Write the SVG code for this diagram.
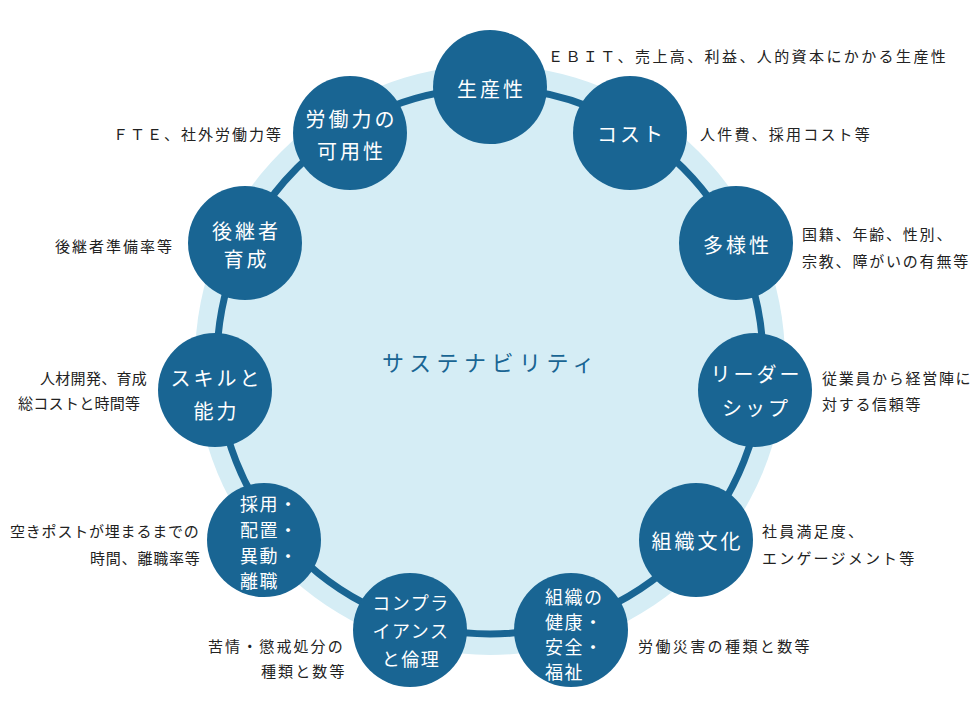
<svg xmlns="http://www.w3.org/2000/svg" width="980" height="720" viewBox="0 0 980 720">
<style>
text{font-family:"Noto Sans CJK JP","Noto Sans",sans-serif;dominant-baseline:central}
.n{fill:#196593}
.nt{fill:#ffffff;font-size:20px;letter-spacing:3px;text-anchor:middle}
.ns{fill:#ffffff;font-size:18px;letter-spacing:1.5px}
.d{fill:#222222;font-size:15px;letter-spacing:2px}
.c{fill:#196593;font-size:22px;letter-spacing:5.5px;text-anchor:middle}
</style>
<rect width="980" height="720" fill="#ffffff"/>
<circle cx="490" cy="360" r="295" fill="#d5edf5"/>
<g id="connectors">
<circle cx="490" cy="361" r="273" fill="none" stroke="#196593" stroke-width="7"/>
</g>
<text class="c" x="491" y="361">サステナビリティ</text>
<g id="n1"><circle class="n" cx="490" cy="87" r="57"/><text class="nt" x="491.5" y="88">生産性</text>
<text class="d" x="548" y="55" style="letter-spacing:2.4px">ＥＢＩＴ、売上高、利益、人的資本にかかる生産性</text></g>
<g id="n2"><circle class="n" cx="630" cy="133" r="57"/><text class="nt" x="631.5" y="133">コスト</text>
<text class="d" x="700" y="133" style="letter-spacing:2.2px">人件費、採用コスト等</text></g>
<g id="n3"><circle class="n" cx="736" cy="243" r="57"/><text class="nt" x="737.5" y="244">多様性</text>
<text class="d" x="802" y="233" style="letter-spacing:1.8px">国籍、年齢、性別、</text>
<text class="d" x="802" y="260" style="letter-spacing:1.8px">宗教、障がいの有無等</text></g>
<g id="n4"><circle class="n" cx="755" cy="390" r="57"/><text class="nt" x="756.5" y="373">リーダー</text><text class="nt" x="756.5" y="407">シップ</text>
<text class="d" x="822" y="377" style="letter-spacing:1.7px">従業員から経営陣に</text>
<text class="d" x="822" y="403" style="letter-spacing:1.7px">対する信頼等</text></g>
<g id="n5"><circle class="n" cx="696" cy="540" r="57"/><text class="nt" x="697.5" y="540">組織文化</text>
<text class="d" x="762" y="530" style="letter-spacing:2.2px">社員満足度、</text>
<text class="d" x="762" y="557" style="letter-spacing:2.2px">エンゲージメント等</text></g>
<g id="n6"><circle class="n" cx="571" cy="630" r="57"/>
<text class="ns" x="545" y="596">組織の</text>
<text class="ns" x="545" y="621">健康・</text>
<text class="ns" x="545" y="646">安全・</text>
<text class="ns" x="545" y="671">福祉</text>
<text class="d" x="638" y="645" style="letter-spacing:2.4px">労働災害の種類と数等</text></g>
<g id="n7"><circle class="n" cx="410" cy="630" r="57"/>
<text class="ns" x="411" y="602" text-anchor="middle">コンプラ</text>
<text class="ns" x="411" y="630" text-anchor="middle">イアンス</text>
<text class="ns" x="411" y="658" text-anchor="middle">と倫理</text>
<text class="d" x="208" y="645" style="letter-spacing:2.1px">苦情・懲戒処分の</text>
<text class="d" x="261" y="670" style="letter-spacing:2.1px">種類と数等</text></g>
<g id="n8"><circle class="n" cx="264" cy="540" r="57"/>
<text class="ns" x="240" y="503">採用・</text>
<text class="ns" x="240" y="529">配置・</text>
<text class="ns" x="240" y="555">異動・</text>
<text class="ns" x="240" y="580">離職</text>
<text class="d" x="10" y="530" style="letter-spacing:0.8px">空きポストが埋まるまでの</text>
<text class="d" x="90" y="557" style="letter-spacing:0.8px">時間、離職率等</text></g>
<g id="n9"><circle class="n" cx="215" cy="390" r="57"/><text class="nt" x="216.5" y="377">スキルと</text><text class="nt" x="216.5" y="410">能力</text>
<text class="d" x="40" y="377" style="letter-spacing:0.3px">人材開発、育成</text>
<text class="d" x="18" y="402" style="letter-spacing:0.3px">総コストと時間等</text></g>
<g id="n10"><circle class="n" cx="245" cy="243" r="57"/><text class="nt" x="246.5" y="230">後継者</text><text class="nt" x="246.5" y="258">育成</text>
<text class="d" x="55" y="245" style="letter-spacing:2px">後継者準備率等</text></g>
<g id="n11"><circle class="n" cx="350" cy="133" r="57"/><text class="nt" x="351.5" y="118">労働力の</text><text class="nt" x="351.5" y="150">可用性</text>
<text class="d" x="113" y="133" style="letter-spacing:2px">ＦＴＥ、社外労働力等</text></g>
</svg>
